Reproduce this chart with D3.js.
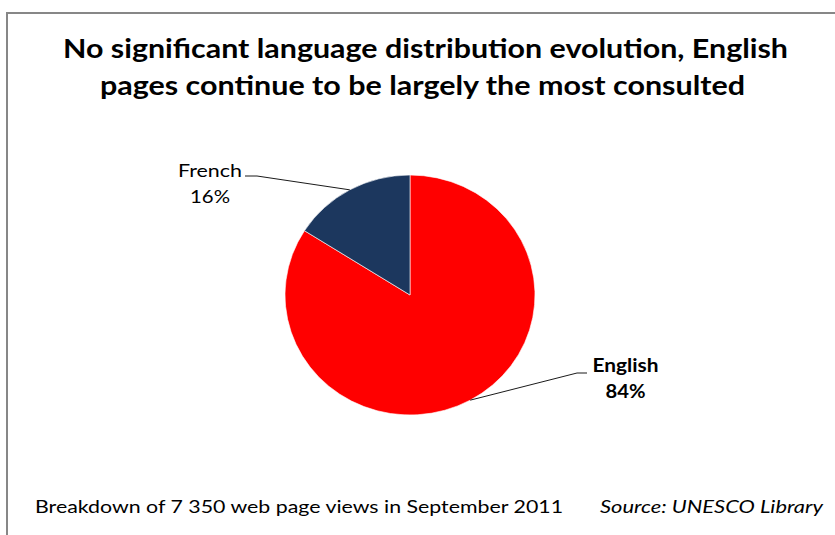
<!DOCTYPE html>
<html>
<head>
<meta charset="utf-8">
<script src="https://cdn.jsdelivr.net/npm/d3@7/dist/d3.min.js"></script>
<style>
  html, body { margin: 0; padding: 0; background: #fff; }
  svg { display: block; }
  text { font-family: Lato, "Open Sans", sans-serif; fill: #000; }
</style>
</head>
<body>
<svg id="chart" width="835" height="535"></svg>
<script>
// Language breakdown of page views
const categories = ["English", "French"];
const shares = [84, 16];
const sliceColors = ["#ff0000", "#1c375e"];

const titleLines = [
  "No significant language distribution evolution, English",
  "pages continue to be largely the most consulted"
];
const footnote = "Breakdown of 7 350 web page views in September 2011";
const sourceNote = "Source: UNESCO Library";

const W = 835, H = 535;
const svg = d3.select("#chart");

// chart frame (runs past right and bottom edges)
svg.append("rect")
  .attr("x", 7).attr("y", 13)
  .attr("width", 900).attr("height", 600)
  .attr("fill", "#fff")
  .attr("stroke", "#878787")
  .attr("stroke-width", 2);

// title
const titleLayout = [
  { cx: 425.5, y: 58, len: 725 },
  { cx: 422.5, y: 95, len: 645 }
];
svg.append("g").selectAll("text")
  .data(titleLines)
  .join("text")
  .attr("x", (d, i) => titleLayout[i].cx)
  .attr("y", (d, i) => titleLayout[i].y)
  .attr("text-anchor", "middle")
  .attr("font-size", 26)
  .attr("font-weight", "bold")
  .attr("textLength", (d, i) => titleLayout[i].len)
  .attr("lengthAdjust", "spacingAndGlyphs")
  .text(d => d);

// pie
const cx = 410, cy = 295, r = 120, sx = 125 / 120;
const data = categories.map((c, i) => ({ name: c, value: shares[i], color: sliceColors[i] }));
const pie = d3.pie().sort(null).value(d => d.value).startAngle(0).endAngle(2 * Math.PI);
const arcs = pie(data);
const arc = d3.arc().innerRadius(0).outerRadius(r);

const pieG = svg.append("g")
  .attr("transform", `translate(${cx},${cy}) scale(${sx},1)`);
pieG.selectAll("path")
  .data(arcs)
  .join("path")
  .attr("d", arc)
  .attr("fill", d => d.data.color)
  .attr("stroke", "#ffffff")
  .attr("stroke-width", 0.6);

// anchor point on the rim at each slice's mid-angle
function rimPoint(d) {
  const a = (d.startAngle + d.endAngle) / 2;
  return [cx + sx * r * Math.sin(a), cy - r * Math.cos(a)];
}

// label placement
const labelLayout = {
  English: { cx: 625.5, y1: 372, y2: 398, bold: true, w1: 66, w2: 40, lx: 587, bend: 577, ly: 373 },
  French:  { cx: 210,   y1: 177, y2: 203, bold: false, w1: 64, w2: 40, lx: 245, bend: 257, ly: 176 }
};

const labG = svg.append("g");
arcs.forEach(d => {
  const L = labelLayout[d.data.name];
  const p = rimPoint(d);
  labG.append("polyline")
    .attr("points", [[L.lx, L.ly], [L.bend, L.ly], p].map(q => q.join(",")).join(" "))
    .attr("fill", "none")
    .attr("stroke", "#000")
    .attr("stroke-width", 0.9);
  labG.append("text")
    .attr("x", L.cx).attr("y", L.y1)
    .attr("text-anchor", "middle")
    .attr("font-size", 18)
    .attr("font-weight", L.bold ? "bold" : "normal")
    .attr("textLength", L.w1)
    .attr("lengthAdjust", "spacingAndGlyphs")
    .attr("fill", L.bold ? "#000" : "#222")
    .text(d.data.name);
  labG.append("text")
    .attr("x", L.cx).attr("y", L.y2)
    .attr("text-anchor", "middle")
    .attr("font-size", 18)
    .attr("font-weight", L.bold ? "bold" : "normal")
    .attr("textLength", L.w2)
    .attr("lengthAdjust", "spacingAndGlyphs")
    .attr("fill", L.bold ? "#000" : "#222")
    .text(d.data.value + "%");
});

// footer
svg.append("text")
  .attr("x", 35).attr("y", 513)
  .attr("font-size", 18)
  .attr("textLength", 528)
  .attr("lengthAdjust", "spacingAndGlyphs")
  .attr("fill", "#222")
  .text(footnote);
svg.append("text")
  .attr("x", 600).attr("y", 513)
  .attr("font-size", 18)
  .attr("font-style", "italic")
  .attr("textLength", 223)
  .attr("lengthAdjust", "spacingAndGlyphs")
  .attr("fill", "#222")
  .text(sourceNote);
</script>
</body>
</html>
